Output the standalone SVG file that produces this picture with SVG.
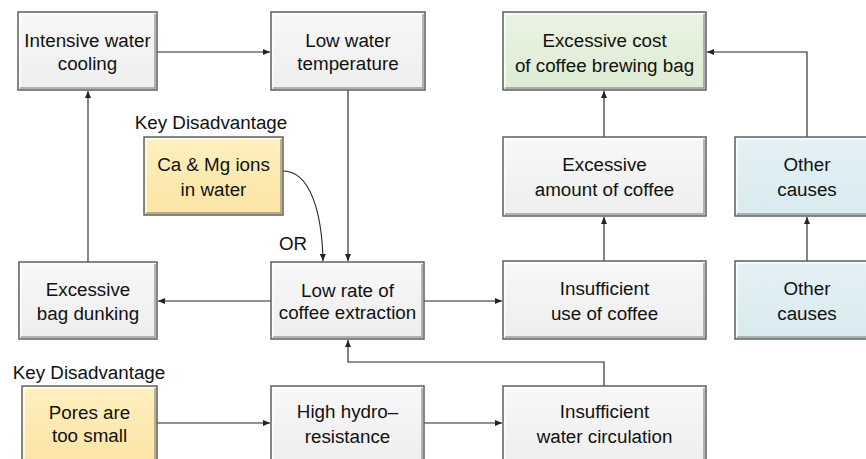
<svg xmlns="http://www.w3.org/2000/svg" width="866" height="459" viewBox="0 0 866 459">
  <style>
    .box { stroke: #555; stroke-width: 1.4; }
    .hl { fill: none; stroke: #fff; stroke-width: 1.5; opacity: 0.85; }
    .sh { fill: none; stroke: #7a7a7a; stroke-width: 1.5; opacity: 0.7; }
    .gray { fill: url(#gGray); }
    .yellow { fill: url(#gYellow); }
    .green { fill: url(#gGreen); }
    .blue { fill: url(#gBlue); }
    text { font-family: "Liberation Sans", Arial, sans-serif; font-size: 18.8px; fill: #111; text-anchor: middle; }
    .conn { fill: none; stroke: #222; stroke-width: 1.1; }
  </style>
  <defs>
    <linearGradient id="gGray" x1="0" y1="0" x2="0" y2="1">
      <stop offset="0" stop-color="#f8f8f8"/>
      <stop offset="1" stop-color="#eeeeee"/>
    </linearGradient>
    <linearGradient id="gYellow" x1="0" y1="0" x2="0" y2="1">
      <stop offset="0" stop-color="#fff0bf"/>
      <stop offset="1" stop-color="#fbe4a4"/>
    </linearGradient>
    <linearGradient id="gGreen" x1="0" y1="0" x2="0" y2="1">
      <stop offset="0" stop-color="#e9f3e2"/>
      <stop offset="1" stop-color="#deecd4"/>
    </linearGradient>
    <linearGradient id="gBlue" x1="0" y1="0" x2="0" y2="1">
      <stop offset="0" stop-color="#e4f1f5"/>
      <stop offset="1" stop-color="#d8eaf0"/>
    </linearGradient>
    <marker id="arrow" markerUnits="userSpaceOnUse" markerWidth="8" markerHeight="6" refX="7" refY="3" orient="auto">
      <path d="M0,0 L7,3 L0,6 z" fill="#222"/>
    </marker>
  </defs>

  <rect width="866" height="459" fill="#fff"/>

  <!-- connectors -->
  <g id="connectors">
    <path class="conn" d="M157,52 H270" marker-end="url(#arrow)"/>
    <path class="conn" d="M348,90 V261" marker-end="url(#arrow)"/>
    <path class="conn" d="M283,171 C310,171 322,212 323,261" marker-end="url(#arrow)"/>
    <path class="conn" d="M271,301 H158" marker-end="url(#arrow)"/>
    <path class="conn" d="M88,262 V91" marker-end="url(#arrow)"/>
    <path class="conn" d="M424,301 H502" marker-end="url(#arrow)"/>
    <path class="conn" d="M604,261 V217" marker-end="url(#arrow)"/>
    <path class="conn" d="M604,137 V91" marker-end="url(#arrow)"/>
    <path class="conn" d="M807,261 V217" marker-end="url(#arrow)"/>
    <path class="conn" d="M807,137 V52 H707" marker-end="url(#arrow)"/>
    <path class="conn" d="M157,423 H270" marker-end="url(#arrow)"/>
    <path class="conn" d="M424,423 H502" marker-end="url(#arrow)"/>
    <path class="conn" d="M604,386 V362 H348 V340" marker-end="url(#arrow)"/>
  </g>

  <!-- labels -->
  <text x="211" y="129">Key Disadvantage</text>
  <text x="89" y="379">Key Disadvantage</text>
  <text x="293" y="250">OR</text>

  <g id="n-cooling">
    <rect class="box gray" x="18" y="12" width="139" height="78"/>
    <path class="hl" d="M20,88 V14 H155"/>
    <path class="sh" d="M20,88 H155 V14"/>
    <text x="87.5" y="47">Intensive water</text>
    <text x="87.5" y="70">cooling</text>
  </g>

  <g id="n-lowtemp">
    <rect class="box gray" x="271" y="12" width="154" height="78"/>
    <path class="hl" d="M273,88 V14 H423"/>
    <path class="sh" d="M273,88 H423 V14"/>
    <text x="348" y="47">Low water</text>
    <text x="348" y="70">temperature</text>
  </g>

  <g id="n-cost">
    <rect class="box green" x="503" y="12" width="203" height="78"/>
    <path class="hl" d="M505,88 V14 H704"/>
    <path class="sh" d="M505,88 H704 V14"/>
    <text x="604.5" y="47">Excessive cost</text>
    <text x="604.5" y="72">of coffee brewing bag</text>
  </g>

  <g id="n-ions">
    <rect class="box yellow" x="144" y="137" width="139" height="78"/>
    <path class="hl" d="M146,213 V139 H281"/>
    <path class="sh" d="M146,213 H281 V139"/>
    <text x="213.5" y="171">Ca &amp; Mg ions</text>
    <text x="213.5" y="196">in water</text>
  </g>

  <g id="n-amount">
    <rect class="box gray" x="503" y="137" width="203" height="79"/>
    <path class="hl" d="M505,214 V139 H704"/>
    <path class="sh" d="M505,214 H704 V139"/>
    <text x="604.5" y="171">Excessive</text>
    <text x="604.5" y="196">amount of coffee</text>
  </g>

  <g id="n-other1">
    <rect class="box blue" x="735" y="137" width="144" height="79"/>
    <path class="hl" d="M737,214 V139 H877"/>
    <path class="sh" d="M737,214 H877 V139"/>
    <text x="807" y="171">Other</text>
    <text x="807" y="196">causes</text>
  </g>

  <g id="n-dunking">
    <rect class="box gray" x="19" y="262" width="138" height="77"/>
    <path class="hl" d="M21,337 V264 H155"/>
    <path class="sh" d="M21,337 H155 V264"/>
    <text x="88" y="296">Excessive</text>
    <text x="88" y="320">bag dunking</text>
  </g>

  <g id="n-lowrate">
    <rect class="box gray" x="271" y="262" width="153" height="77"/>
    <path class="hl" d="M273,337 V264 H422"/>
    <path class="sh" d="M273,337 H422 V264"/>
    <text x="347.5" y="297">Low rate of</text>
    <text x="347.5" y="319">coffee extraction</text>
  </g>

  <g id="n-use">
    <rect class="box gray" x="503" y="261" width="203" height="78"/>
    <path class="hl" d="M505,337 V263 H704"/>
    <path class="sh" d="M505,337 H704 V263"/>
    <text x="604.5" y="295">Insufficient</text>
    <text x="604.5" y="320">use of coffee</text>
  </g>

  <g id="n-other2">
    <rect class="box blue" x="735" y="261" width="144" height="78"/>
    <path class="hl" d="M737,337 V263 H877"/>
    <path class="sh" d="M737,337 H877 V263"/>
    <text x="807" y="295">Other</text>
    <text x="807" y="320">causes</text>
  </g>

  <g id="n-pores">
    <rect class="box yellow" x="22" y="386" width="135" height="78"/>
    <path class="hl" d="M24,462 V388 H155"/>
    <path class="sh" d="M24,462 H155 V388"/>
    <text x="89.5" y="419">Pores are</text>
    <text x="89.5" y="442">too small</text>
  </g>

  <g id="n-hydro">
    <rect class="box gray" x="271" y="386" width="153" height="78"/>
    <path class="hl" d="M273,462 V388 H422"/>
    <path class="sh" d="M273,462 H422 V388"/>
    <text x="347.5" y="418">High hydro–</text>
    <text x="347.5" y="443">resistance</text>
  </g>

  <g id="n-circulation">
    <rect class="box gray" x="503" y="386" width="203" height="78"/>
    <path class="hl" d="M505,462 V388 H704"/>
    <path class="sh" d="M505,462 H704 V388"/>
    <text x="604.5" y="418">Insufficient</text>
    <text x="604.5" y="443">water circulation</text>
  </g>
</svg>
